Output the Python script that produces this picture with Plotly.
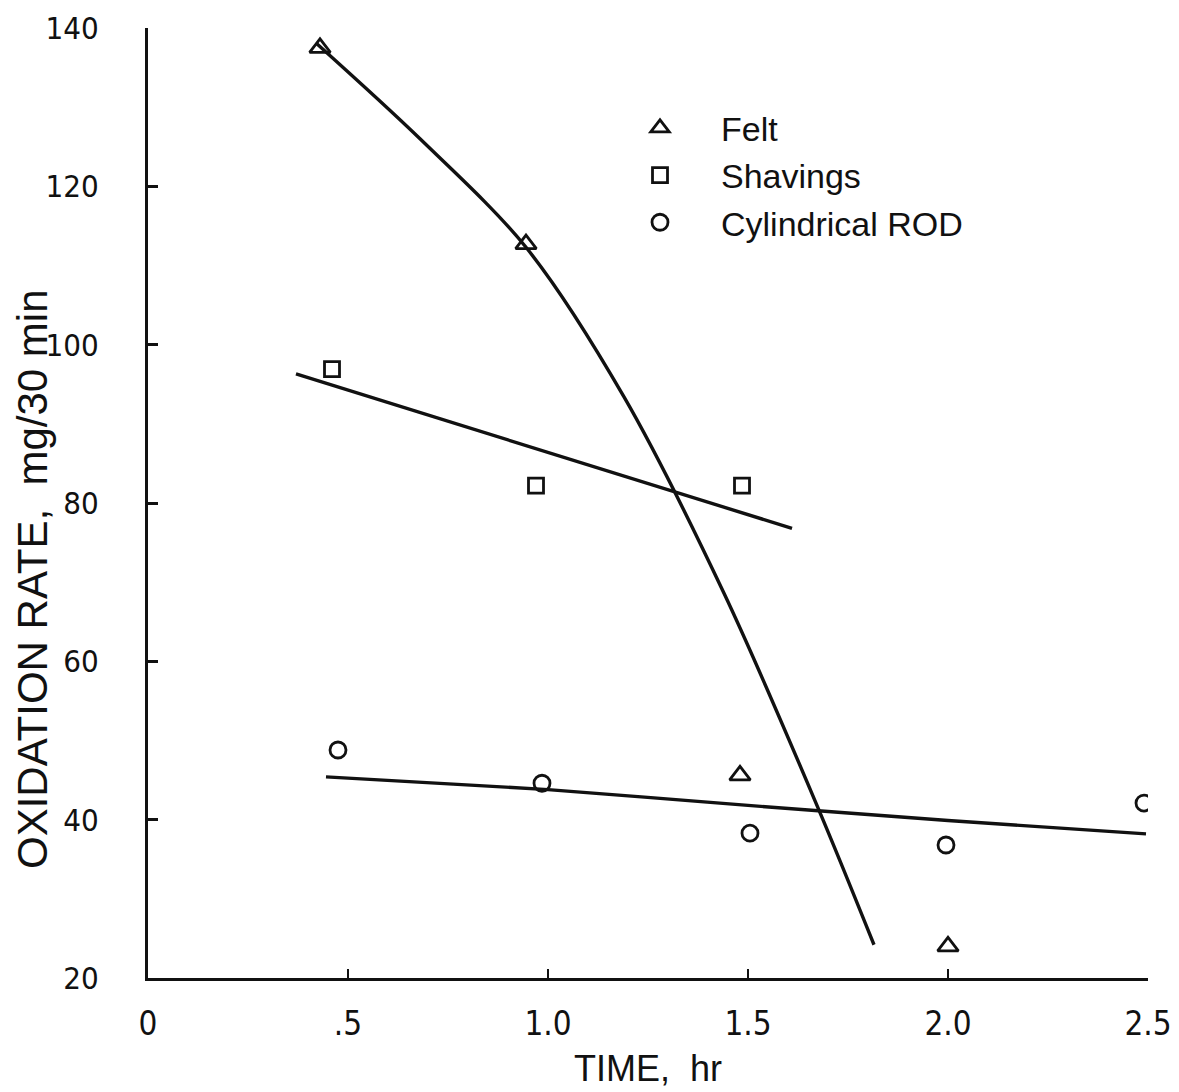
import plotly.graph_objects as go

# Measured points
felt_x = [0.43, 0.945, 1.48, 2.0]
felt_y = [137.5, 112.7, 45.6, 24.0]
shav_x = [0.46, 0.97, 1.485]
shav_y = [96.9, 82.2, 82.2]
rod_x = [0.475, 0.985, 1.505, 1.995, 2.49]
rod_y = [48.8, 44.6, 38.3, 36.8, 42.1]

# Hand-drawn fitted curves
felt_curve_x = [0.42, 0.68, 0.945, 1.19, 1.44, 1.675, 1.815]
felt_curve_y = [138.1, 126.0, 112.3, 93.4, 68.6, 41.5, 24.2]
shav_line_x = [0.37, 1.61]
shav_line_y = [96.3, 76.8]
rod_line_x = [0.445, 1.0, 1.5, 2.0, 2.495]
rod_line_y = [45.4, 43.8, 41.8, 39.9, 38.2]

x_tickvals = [0, 0.5, 1.0, 1.5, 2.0, 2.5]
x_ticktext = ["0", ".5", "1.0", "1.5", "2.0", "2.5"]
y_tickvals = [20, 40, 60, 80, 100, 120, 140]

FONT = "DejaVu Sans Condensed, Liberation Sans, sans-serif"
TFONT = "Liberation Sans, sans-serif"
ink = "#111111"

fig = go.Figure()
line_style = dict(color=ink, width=3.4)
fig.add_trace(go.Scatter(x=felt_curve_x, y=felt_curve_y, mode="lines",
                         line=dict(shape="spline", smoothing=0.9, **line_style),
                         showlegend=False, hoverinfo="skip"))
fig.add_trace(go.Scatter(x=shav_line_x, y=shav_line_y, mode="lines",
                         line=line_style, showlegend=False, hoverinfo="skip"))
fig.add_trace(go.Scatter(x=rod_line_x, y=rod_line_y, mode="lines",
                         line=dict(shape="spline", smoothing=0.6, **line_style),
                         showlegend=False, hoverinfo="skip"))

mk = dict(color=ink, line=dict(color=ink, width=2.8))
fig.add_trace(go.Scatter(x=felt_x, y=felt_y, mode="markers", name="Felt",
                         marker=dict(symbol="triangle-up-open", size=18, **mk)))
fig.add_trace(go.Scatter(x=shav_x, y=shav_y, mode="markers", name="Shavings",
                         marker=dict(symbol="square-open", size=15, **mk)))
fig.add_trace(go.Scatter(x=rod_x, y=rod_y, mode="markers", name="Cylindrical ROD",
                         marker=dict(symbol="circle-open", size=16, **mk)))

fig.update_layout(
    width=1179, height=1092,
    margin=dict(l=148, r=31, t=28, b=114),
    plot_bgcolor="white", paper_bgcolor="white",
    font=dict(family=FONT, size=33, color=ink),
    showlegend=True,
    legend=dict(x=0.451, y=0.925, xanchor="left", yanchor="top",
                bgcolor="rgba(0,0,0,0)", font=dict(family=TFONT, size=34),
                itemwidth=112, tracegroupgap=0),
    xaxis=dict(range=[0, 2.5], tickvals=x_tickvals, ticktext=x_ticktext,
               showgrid=False, zeroline=False, showline=True, linecolor=ink,
               linewidth=3, ticks="inside", ticklen=9, tickwidth=2, tickcolor=ink,
               ticklabelstandoff=14, ticklabeloverflow="allow", automargin=False),
    yaxis=dict(range=[20, 140], tickvals=y_tickvals, tickfont=dict(size=31),
               showgrid=False, zeroline=False, showline=True, linecolor=ink,
               linewidth=3, ticks="inside", ticklen=10, tickwidth=3, tickcolor=ink,
               ticklabelstandoff=40, ticklabeloverflow="allow", automargin=False),
    annotations=[
        dict(text="OXIDATION RATE,  mg/30 min", xref="paper", yref="paper",
             x=-0.116, y=0.42, xanchor="center", yanchor="middle",
             textangle=-90, showarrow=False,
             font=dict(family=TFONT, size=42, color=ink)),
        dict(text="TIME,  hr", xref="paper", yref="paper",
             x=0.5, y=-0.095, xanchor="center", yanchor="middle",
             showarrow=False, font=dict(family=TFONT, size=36, color=ink)),
    ],
)

fig.write_html("out.html", config={"displayModeBar": False},
               post_script="document.body.style.margin='0';")
